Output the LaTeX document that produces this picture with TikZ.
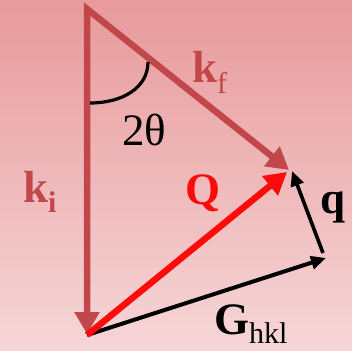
\documentclass[tikz,border=0pt]{standalone}
\usepackage{fontspec}
\setmainfont{Liberation Serif}
\usetikzlibrary{arrows.meta}
\definecolor{bgtop}{HTML}{E89A9C}
\definecolor{bgbot}{HTML}{F6D6D7}
\definecolor{kcol}{HTML}{C2474A}
\definecolor{qred}{HTML}{FF0A0A}
\tikzset{
  big/.style={inner sep=0pt, anchor=base west, font=\fontsize{45}{48}\selectfont},
  kvec/.style={draw=kcol, line width=6.5pt, line join=miter, {Triangle[length=22pt,width=24pt]}-{Triangle[length=22pt,width=24pt]}},
  qvec/.style={draw=qred, line width=6.5pt, -{Triangle[length=22pt,width=24pt]}},
  blk/.style={draw=black, line width=4pt, -{Triangle[length=15pt,width=13pt]}},
  arcst/.style={draw=black, line width=3.2pt},
}
\newcommand{\sub}[2]{\raisebox{-#1pt}{\fontsize{30}{32}\mdseries\selectfont #2}}
\begin{document}
\begin{tikzpicture}[x=1pt,y=-1pt]
  \shade[top color=bgtop, bottom color=bgbot] (0,0) rectangle (352,350);
  \useasboundingbox (0,0) rectangle (352,350);
  \coordinate (A) at (87,9);
  \coordinate (O) at (87,335);
  \coordinate (Ki) at (87,334);
  \coordinate (Kf) at (289,170);
  \coordinate (Qt) at (287,172);
  \coordinate (Gt) at (326,258);
  \coordinate (qs) at (323,253);
  \coordinate (qt) at (292,171);
  \coordinate (a1) at (90,103);
  \coordinate (a2) at (148,62);
  % vectors
  \draw[kvec] (Ki) -- (A) -- (Kf);
  \draw[blk] (O) -- (Gt);
  \draw[blk, line width=3.6pt] (qs) -- (qt);
  \draw[qvec] (O) -- (Qt);
  % angle arc
  \draw[arcst] (a1) .. controls (122,103) and (148,88) .. (a2);
  % labels
  \node[big, text=kcol] (kf) at (192,82) {\textbf{k}\sub{11}{f}};
  \node[big, text=kcol] (ki) at (23,202) {\textbf{k}\sub{10}{\textbf{i}}};
  \node[big] (th) at (122,145) {2θ};
  \node[big, text=qred] (Q) at (185,204) {\textbf{Q}};
  \node[big] (q) at (320,213) {\textbf{q}};
  \node[big] (G) at (214,334) {\textbf{G}\sub{9}{hkl}};
\end{tikzpicture}
\end{document}
